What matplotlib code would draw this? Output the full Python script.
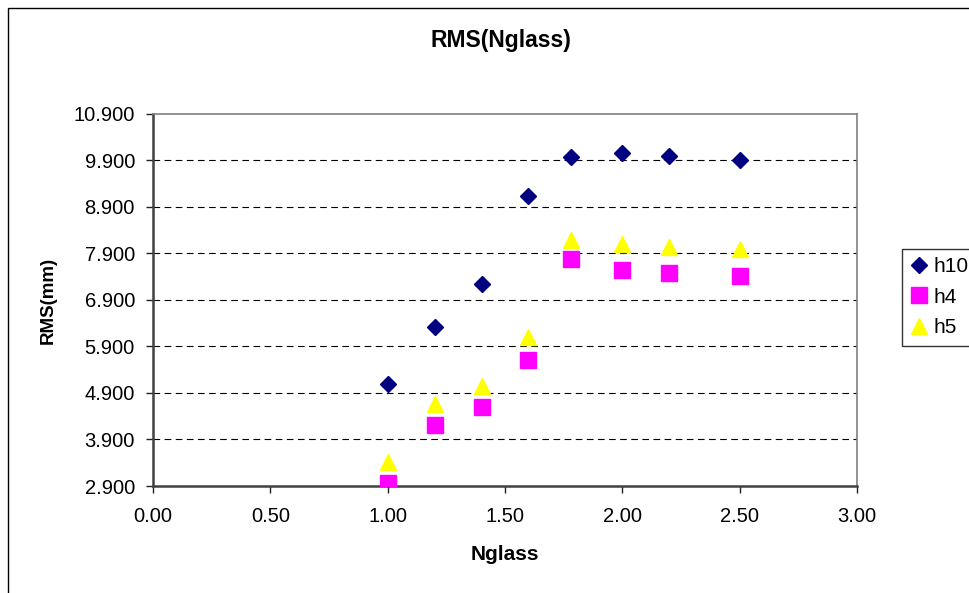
import matplotlib
matplotlib.use("Agg")
import matplotlib.pyplot as plt
from matplotlib.patches import Rectangle
from matplotlib.ticker import FormatStrFormatter, MultipleLocator

plt.rcParams['font.family'] = ['Liberation Sans', 'DejaVu Sans']

nglass = [1.0, 1.2, 1.4, 1.6, 1.78, 2.0, 2.2, 2.5]
h10 = [5.09, 6.33, 7.24, 9.14, 9.98, 10.06, 9.99, 9.92]
h4 = [2.96, 4.21, 4.60, 5.62, 7.79, 7.55, 7.47, 7.42]
h5 = [3.42, 4.66, 5.06, 6.11, 8.19, 8.11, 8.04, 8.00]

fig = plt.figure(figsize=(9.7, 5.93), dpi=100)
# outer chart border
fig.patches.append(Rectangle((8/970, -0.1), 1.2, (593-8)/593 + 0.1, transform=fig.transFigure,
                             fill=False, edgecolor='black', linewidth=1.0))

ax = fig.add_axes([153/970, 1-486/593, (857-153)/970, (486-114)/593])
ax.set_xlim(0, 3)
ax.set_ylim(2.9, 10.9)
ax.xaxis.set_major_locator(MultipleLocator(0.5))
ax.xaxis.set_major_formatter(FormatStrFormatter('%.2f'))
ax.yaxis.set_major_formatter(FormatStrFormatter('%.3f'))
ax.set_yticks([2.9 + i for i in range(9)])

for y in [3.9, 4.9, 5.9, 6.9, 7.9, 8.9, 9.9]:
    ax.axhline(y, color='black', linestyle=(0, (6, 4)), linewidth=0.8, zorder=1)

ax.plot(nglass, h10, linestyle='none', marker='D', markersize=8, color='#000080', label='h10', zorder=3)
ax.plot(nglass, h4, linestyle='none', marker='s', markersize=11, color='#FF00FF', label='h4', zorder=3)
ax.plot(nglass, h5, linestyle='none', marker='^', markersize=11, color='#FFFF00', label='h5', zorder=2.5)

for s in ['top', 'right']:
    ax.spines[s].set_color('#808080')
    ax.spines[s].set_linewidth(1.2)
for s in ['left', 'bottom']:
    ax.spines[s].set_color('#404040')
    ax.spines[s].set_linewidth(1.8)

ax.tick_params(direction='out', length=5, width=1, labelsize=14.5, color='#202020')
ax.tick_params(axis='x', pad=10)
ax.tick_params(axis='y', pad=8)

fig.text(0.5 * (153 + 857) / 970 - 0.004, 1 - 40/593, 'RMS(Nglass)', fontsize=16.5,
         fontweight='bold', ha='center', va='center')
ax.set_xlabel('Nglass', fontsize=15, fontweight='bold', va='center')
ax.xaxis.set_label_coords(0.5, (486 - 555) / 372)
ax.set_ylabel('RMS(mm)', fontsize=13.5, fontweight='bold', va='center')
ax.yaxis.set_label_coords((48 - 153) / 704, 0.5)

leg = fig.legend(loc='upper left', bbox_to_anchor=(902/970, 1-249/593), frameon=True,
                 fontsize=15, handlelength=0.8, handletextpad=0.3, borderpad=0.4,
                 labelspacing=0.55, fancybox=False, borderaxespad=0)
leg.get_frame().set_edgecolor('black')
leg.get_frame().set_linewidth(1.0)

fig.savefig('out.png', dpi=100)
